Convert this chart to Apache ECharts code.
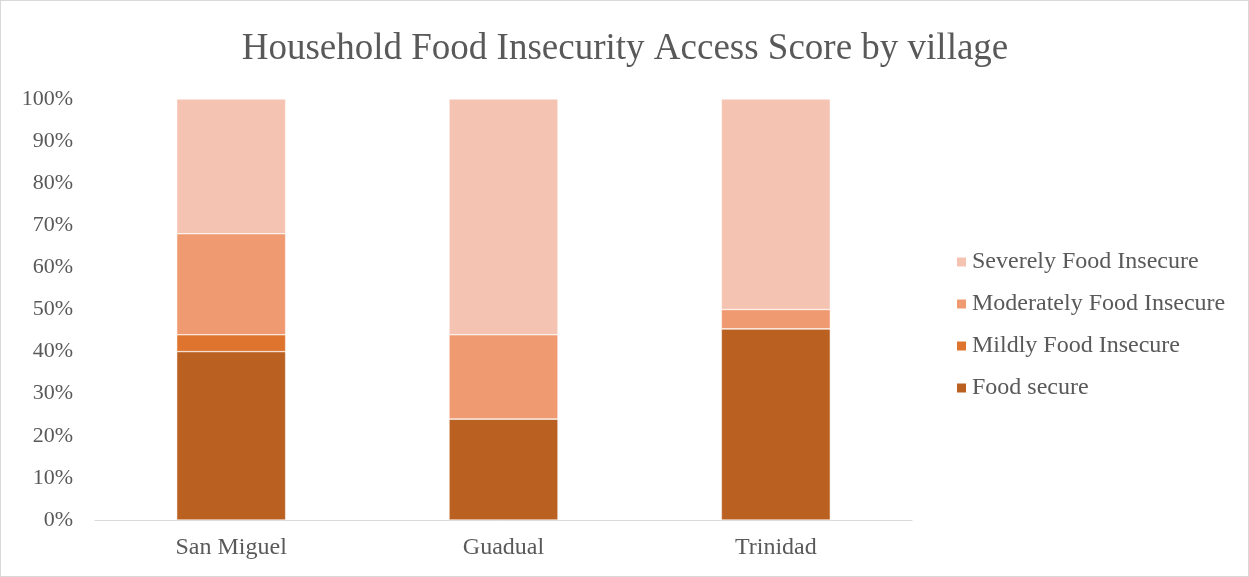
<!DOCTYPE html>
<html><head><meta charset="utf-8">
<script src="https://cdn.jsdelivr.net/npm/echarts@6/dist/echarts.min.js"></script>
<style>html,body{margin:0;padding:0;background:#fff}#c{width:1249px;height:577px;box-sizing:border-box;border:1px solid #d9d9d9}</style>
</head><body><div id="c"></div>
<script>
const categories = ['San Miguel', 'Guadual', 'Trinidad'];
const foodSecure = [40, 24, 45.4];
const mildly = [4, 0, 0];
const moderately = [24, 20, 4.6];
const severely = [32, 56, 50];
const yTicks = [0, 10, 20, 30, 40, 50, 60, 70, 80, 90, 100];

const chart = echarts.init(document.getElementById('c'));
const font = "'Liberation Serif', 'Times New Roman', serif";
const mk = (name, data, color) => ({
  name, type: 'bar', stack: 'a', data, barWidth: '40%',
  itemStyle: { color, borderColor: '#fff', borderWidth: 0.5 }
});
chart.setOption({
  animation: false,
  title: { text: 'Household Food Insecurity Access Score by village', left: 619, top: 25, textAlign: 'center',
    textStyle: { fontFamily: font, fontSize: 37, fontWeight: 'normal', color: '#595959' } },
  grid: { left: 94, right: 336, top: 98, bottom: 56 },
  legend: { orient: 'vertical', left: 954, top: 249, padding: 0, itemWidth: 11, itemHeight: 11, itemGap: 18,
    icon: 'rect',
    data: ['Severely Food Insecure', 'Moderately Food Insecure', 'Mildly Food Insecure', 'Food secure'],
    textStyle: { fontFamily: font, fontSize: 24, lineHeight: 24, color: '#595959' } },
  xAxis: { type: 'category', data: categories,
    axisLine: { lineStyle: { color: '#d9d9d9' } }, axisTick: { show: false },
    axisLabel: { fontFamily: font, fontSize: 24, color: '#595959', margin: 16 } },
  yAxis: { type: 'value', min: yTicks[0], max: yTicks[yTicks.length - 1], interval: 10,
    splitLine: { show: false }, axisLine: { show: false },
    axisLabel: { fontFamily: font, fontSize: 22, color: '#595959', margin: 22, formatter: v => v + '%' } },
  series: [
    mk('Food secure', foodSecure, '#BA6122'),
    mk('Mildly Food Insecure', mildly, '#DE742E'),
    mk('Moderately Food Insecure', moderately, '#F09A72'),
    mk('Severely Food Insecure', severely, '#F5C3B2')
  ]
});
</script></body></html>
